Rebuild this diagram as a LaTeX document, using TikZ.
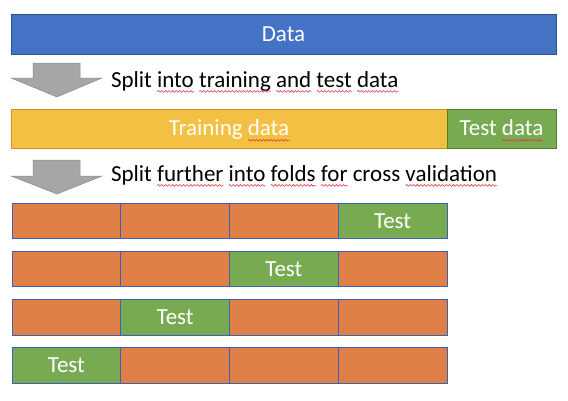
\documentclass[tikz,border=0pt]{standalone}
\usepackage{fontspec}
\setmainfont{Carlito}
\usetikzlibrary{decorations.pathmorphing}
\definecolor{dblue}{HTML}{4472C4}
\definecolor{dblueline}{HTML}{2F528F}
\definecolor{gold}{HTML}{F4C043}
\definecolor{goldline}{HTML}{C8941E}
\definecolor{leaf}{HTML}{78AA52}
\definecolor{leafline}{HTML}{507E32}
\definecolor{rust}{HTML}{DF8046}
\definecolor{cellline}{HTML}{4060B8}
\definecolor{arrowgray}{HTML}{A6A6A6}
\definecolor{arrowline}{HTML}{8A8A8A}
\definecolor{spell}{HTML}{E8303A}
\newcommand\labelfont{\fontsize{23}{27}\selectfont}
\newlength\datawidth
\settowidth{\datawidth}{\labelfont data}
\newlength\wordgap
\setlength\wordgap{5.2pt}
% red proofing squiggle under a named word node
\newcommand\spellmark[1]{\draw[spellwave] ([yshift=-4.4pt]#1.base west) -- ([yshift=-4.4pt]#1.base east);}
\begin{document}
\begin{tikzpicture}[x=1pt,y=-1pt,
  every node/.style={font=\labelfont},
  bar/.style={draw, line width=0.8pt, inner sep=0pt, outer sep=0pt,
    text=white, text height=14.8pt, text depth=0pt},
  databar/.style={bar, fill=dblue, draw=dblueline, minimum width=545pt, minimum height=40pt},
  trainbar/.style={bar, fill=gold, draw=goldline, minimum width=436pt, minimum height=39pt},
  testbar/.style={bar, fill=leaf, draw=leafline, minimum width=109pt, minimum height=39pt},
  barlabel/.style={text=white, inner sep=0pt, text height=14.8pt, text depth=0pt},
  cell/.style={bar, draw=cellline, line width=0.6pt, fill=rust, minimum width=108.75pt, minimum height=35.5pt},
  testcell/.style={cell, fill=leaf},
  word/.style={anchor=base west, inner sep=0pt, outer sep=0pt, text=black},
  spellwave/.style={draw=spell, line width=0.55pt,
    decorate, decoration={snake, amplitude=0.9pt, segment length=3.6pt}},
  splitarrow/.style={fill=arrowgray, draw=arrowline, line width=0.5pt, line join=miter}]
\useasboundingbox (0,0) rectangle (568,400);

% full data set
\node[databar] (data) at (283.5,34) {Data};

% first split arrow
\coordinate (a1) at (33,63);
\fill[splitarrow] (a1) -- ++(47,0) -- ++(0,15) -- ++(22,0) -- ++(-45,19) -- ++(-46,-19) -- ++(22,0) -- cycle;

% caption of the first split, word by word
\node[word] (s1a) at (111,87) {Split};
\node[word] (s1b) at ([xshift=\wordgap]s1a.base east) {into};
\node[word] (s1c) at ([xshift=\wordgap]s1b.base east) {training};
\node[word] (s1d) at ([xshift=\wordgap]s1c.base east) {and};
\node[word] (s1e) at ([xshift=\wordgap]s1d.base east) {test};
\node[word] (s1f) at ([xshift=\wordgap]s1e.base east) {data};
\spellmark{s1b}\spellmark{s1c}\spellmark{s1d}\spellmark{s1e}\spellmark{s1f}

% training / test split
\node[trainbar] (train) at (229,128.5) {};
\node[barlabel] (trainlbl) at (train.center) {Training data};
\node[testbar] (test) at (501.5,128.5) {};
\node[barlabel] (testlbl) at (test.center) {Test data};
\draw[spellwave] ([xshift=-\datawidth,yshift=-4.4pt]trainlbl.base east) -- ([yshift=-4.4pt]trainlbl.base east);
\draw[spellwave] ([xshift=-\datawidth,yshift=-4.4pt]testlbl.base east) -- ([yshift=-4.4pt]testlbl.base east);

% second split arrow
\coordinate (a2) at (33,160);
\fill[splitarrow] (a2) -- ++(47,0) -- ++(0,16) -- ++(22,0) -- ++(-45,18) -- ++(-46,-18) -- ++(22,0) -- cycle;

% caption of the second split, word by word
\node[word] (s2a) at (111,181) {Split};
\node[word] (s2b) at ([xshift=\wordgap]s2a.base east) {further};
\node[word] (s2c) at ([xshift=\wordgap]s2b.base east) {into};
\node[word] (s2d) at ([xshift=\wordgap]s2c.base east) {folds};
\node[word] (s2e) at ([xshift=\wordgap]s2d.base east) {for};
\node[word] (s2f) at ([xshift=\wordgap]s2e.base east) {cross};
\node[word] (s2g) at ([xshift=\wordgap]s2f.base east) {validation};
\spellmark{s2b}\spellmark{s2c}\spellmark{s2d}\spellmark{s2e}\spellmark{s2g}

% cross-validation folds: row r has its test fold in column 5-r
\foreach \r in {1,...,4}{
  \foreach \c in {1,...,4}{
    \pgfmathtruncatemacro{\testc}{5-\r}
    \pgfmathsetmacro{\cx}{12+108.75*(\c-1)+54.375}
    \pgfmathsetmacro{\cy}{203+48.2*(\r-1)+17.75}
    \ifnum\c=\testc
      \node[testcell] (f\r\c) at (\cx,\cy) {Test};
    \else
      \node[cell] (f\r\c) at (\cx,\cy) {};
    \fi
  }
}
\end{tikzpicture}
\end{document}
